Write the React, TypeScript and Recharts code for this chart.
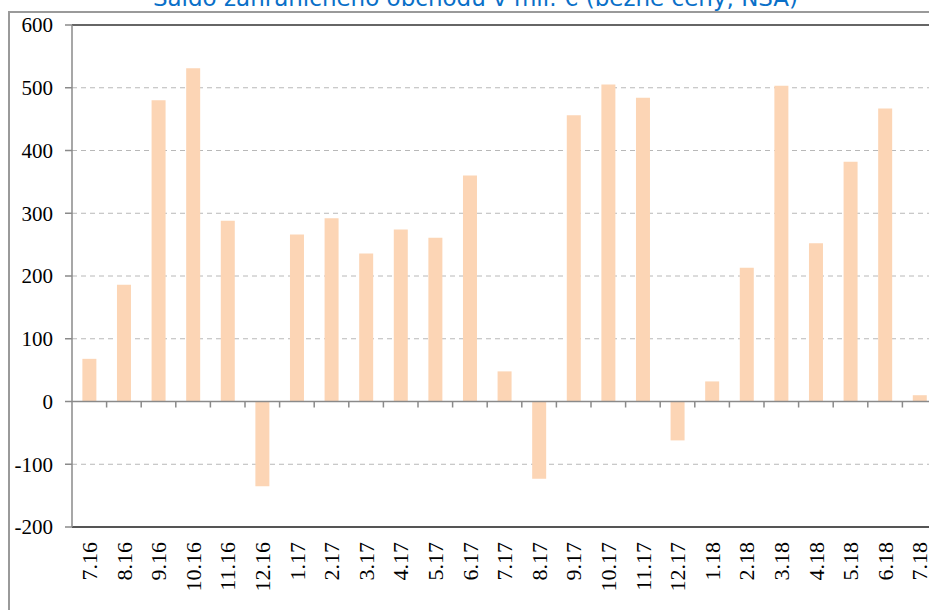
import { BarChart, Bar, XAxis, YAxis, CartesianGrid, ReferenceLine } from 'recharts';

const months = [
  '7.16', '8.16', '9.16', '10.16', '11.16', '12.16',
  '1.17', '2.17', '3.17', '4.17', '5.17', '6.17',
  '7.17', '8.17', '9.17', '10.17', '11.17', '12.17',
  '1.18', '2.18', '3.18', '4.18', '5.18', '6.18', '7.18',
];

const saldo = [
  68, 186, 480, 531, 288, -135,
  266, 292, 236, 274, 261, 360,
  48, -123, 456, 505, 484, -62,
  32, 213, 503, 252, 382, 467, 10,
];

const yTicks = [-200, -100, 0, 100, 200, 300, 400, 500, 600];

const data = months.map((m, i) => ({ month: m, saldo: saldo[i] }));

const SERIF = '"Liberation Serif", "Times New Roman", serif';

// rotated month labels under the bottom axis
const MonthTick = (props: any) => {
  const { x, y, payload } = props;
  const ty = y + 15;
  return (
    <text
      x={x}
      y={ty}
      transform={`rotate(-90, ${x}, ${ty})`}
      textAnchor="end"
      dy="0.35em"
      fontFamily={SERIF}
      fontSize={22}
      fill="#000"
    >
      {payload.value}
    </text>
  );
};

// zero line with small ticks between categories
const ZeroLine = (props: any) => {
  const { x1, x2, y1 } = props;
  const step = (x2 - x1) / months.length;
  const marks = [];
  for (let i = 1; i < months.length; i++) {
    const x = x1 + step * i;
    marks.push(<line key={i} x1={x} x2={x} y1={y1} y2={y1 + 6} stroke="#8a8a8a" strokeWidth={1.5} />);
  }
  return (
    <g>
      <line x1={x1} x2={x2} y1={y1} y2={y1} stroke="#8a8a8a" strokeWidth={1.5} />
      {marks}
    </g>
  );
};

export default function App() {
  return (
    <div style={{ position: 'absolute', left: 0, top: 0, width: 929, height: 610, overflow: 'hidden', background: '#fff' }}>
      <div
        style={{
          position: 'absolute',
          left: 8,
          top: 11,
          width: 1000,
          height: 700,
          border: '2px solid #9a9a9a',
        }}
      />
      <div
        style={{
          position: 'absolute',
          left: 0,
          width: 951,
          top: -16,
          textAlign: 'center',
          fontFamily: '"DejaVu Sans", Tahoma, sans-serif',
          fontSize: 23,
          lineHeight: '28px',
          color: '#0a70c8',
          whiteSpace: 'nowrap',
        }}
      >
        Saldo zahraničného obchodu v mil. € (bežné ceny, NSA)
      </div>
      <div style={{ position: 'absolute', left: 0, top: 0 }}>
        <BarChart
          width={960}
          height={640}
          data={data}
          margin={{ top: 25, right: 23, bottom: 23, left: 0 }}
          barCategoryGap="30%"
        >
          <CartesianGrid
            vertical={false}
            horizontalValues={[-100, 100, 200, 300, 400, 500]}
            stroke="#b8b8b8"
            strokeDasharray="5 4"
          />
          <XAxis
            dataKey="month"
            height={90}
            interval={0}
            tickLine={false}
            tickSize={0}
            tickMargin={0}
            axisLine={{ stroke: '#555', strokeWidth: 2 }}
            tick={<MonthTick />}
          />
          <YAxis
            type="number"
            domain={[-200, 600]}
            ticks={yTicks}
            width={72}
            tickSize={7}
            tickMargin={12}
            axisLine={{ stroke: '#8a8a8a', strokeWidth: 1.5 }}
            tickLine={{ stroke: '#8a8a8a', strokeWidth: 1.5 }}
            tick={{ fontFamily: SERIF, fontSize: 21, fill: '#000' }}
          />
          <ReferenceLine y={600} stroke="#333" strokeWidth={1.5} />
          <Bar dataKey="saldo" fill="#fcd5b5" isAnimationActive={false} />
          <ReferenceLine y={0} shape={<ZeroLine />} />
        </BarChart>
      </div>
    </div>
  );
}
